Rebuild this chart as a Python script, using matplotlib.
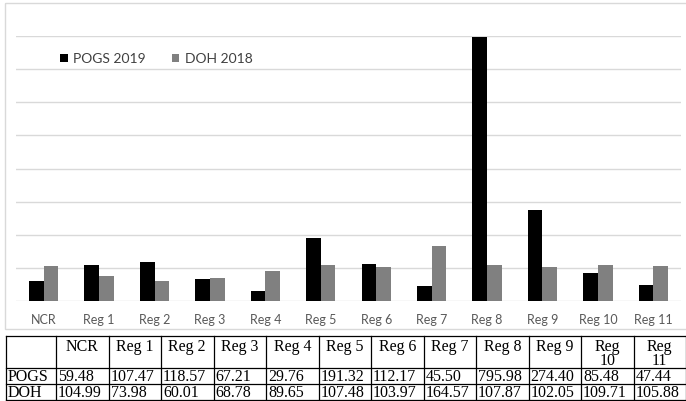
import matplotlib
matplotlib.use("Agg")
import matplotlib.pyplot as plt
import numpy as np
from matplotlib.patches import Rectangle
from matplotlib.lines import Line2D

# ---- data ----
categories = ["NCR", "Reg 1", "Reg 2", "Reg 3", "Reg 4", "Reg 5",
              "Reg 6", "Reg 7", "Reg 8", "Reg 9", "Reg 10", "Reg 11"]
table_headers = ["NCR", "Reg 1", "Reg 2", "Reg 3", "Reg 4", "Reg 5",
                 "Reg 6", "Reg 7", "Reg 8", "Reg 9", "Reg\n10", "Reg\n11"]
pogs_2019 = [59.48, 107.47, 118.57, 67.21, 29.76, 191.32,
             112.17, 45.50, 795.98, 274.40, 85.48, 47.44]
doh_2018 = [104.99, 73.98, 60.01, 68.78, 89.65, 107.48,
            103.97, 164.57, 107.87, 102.05, 109.71, 105.88]
series_names = ["POGS 2019", "DOH 2018"]
row_names = ["POGS", "DOH"]

W, H = 686, 402
fig = plt.figure(figsize=(W / 100, H / 100), dpi=100)

def fx(px):
    return px / W

def fy(py):
    return 1 - py / H

# ---- chart frame (pixel overlay) ----
over = fig.add_axes([0, 0, 1, 1], zorder=0)
over.set_xlim(0, W)
over.set_ylim(H, 0)
over.axis("off")
over.add_patch(Rectangle((5, 4), 690, 326, fill=False, edgecolor="#d9d9d9", lw=1.0))

# ---- bar chart ----
ax = fig.add_axes([fx(16), fy(302), fx(681) - fx(16), fy(37) - fy(302)], zorder=1)
ax.patch.set_alpha(0)
x = np.arange(len(categories))
bw = 0.265
ax.bar(x - bw / 2, pogs_2019, width=bw, color="#000000", label=series_names[0], zorder=3)
ax.bar(x + bw / 2, doh_2018, width=bw, color="#808080", label=series_names[1], zorder=3)
ax.set_xlim(-0.5, len(categories) - 0.5)
ax.set_ylim(0, 800)
ax.set_yticks(np.arange(0, 801, 100))
ax.yaxis.grid(True, color="#d9d9d9", lw=1.0, zorder=0)
ax.set_yticklabels([])
ax.tick_params(axis="y", length=0)
ax.set_xticks(x)
ax.set_xticklabels(categories, fontfamily="Lato", fontsize=9, color="#595959")
ax.tick_params(axis="x", length=0, pad=9)
for s in ax.spines.values():
    s.set_visible(False)

leg = ax.legend(loc="upper left", bbox_to_anchor=(0.048, 0.985),
                bbox_transform=ax.transAxes, ncol=2, frameon=False,
                prop={"family": "Lato", "size": 10},
                handlelength=0.52, handleheight=0.52, handletextpad=0.4,
                columnspacing=1.9, labelcolor="#404040")

# ---- data table ----
tx0, tx1 = 6, 686
first_w = 50
col_w = (tx1 - tx0 - first_w) / len(categories)
ty = [337, 369, 385, 401]
col_edges = [tx0, tx0 + first_w] + [tx0 + first_w + col_w * (i + 1) for i in range(len(categories))]

for yy in ty:
    over.add_line(Line2D([tx0, tx1], [yy, yy], color="black", lw=0.9))
for xx in col_edges:
    over.add_line(Line2D([xx, xx], [ty[0], ty[-1]], color="black", lw=0.9))

serif = "Liberation Serif"
fs = 11.5
for i, hdr in enumerate(table_headers):
    cx = (col_edges[i + 1] + col_edges[i + 2]) / 2
    over.text(cx, ty[0] + 2, hdr, ha="center", va="top", fontfamily=serif,
              fontsize=fs, linespacing=0.8)

for r, (name, vals) in enumerate(zip(row_names, [pogs_2019, doh_2018])):
    cy = (ty[r + 1] + ty[r + 2]) / 2 + 0.5
    over.text(tx0 + 2, cy, name, ha="left", va="center", fontfamily=serif, fontsize=fs)
    for i, v in enumerate(vals):
        over.text(col_edges[i + 1] + 2, cy, f"{v:.2f}", ha="left", va="center",
                  fontfamily=serif, fontsize=fs)

fig.savefig("out.png", dpi=100)
